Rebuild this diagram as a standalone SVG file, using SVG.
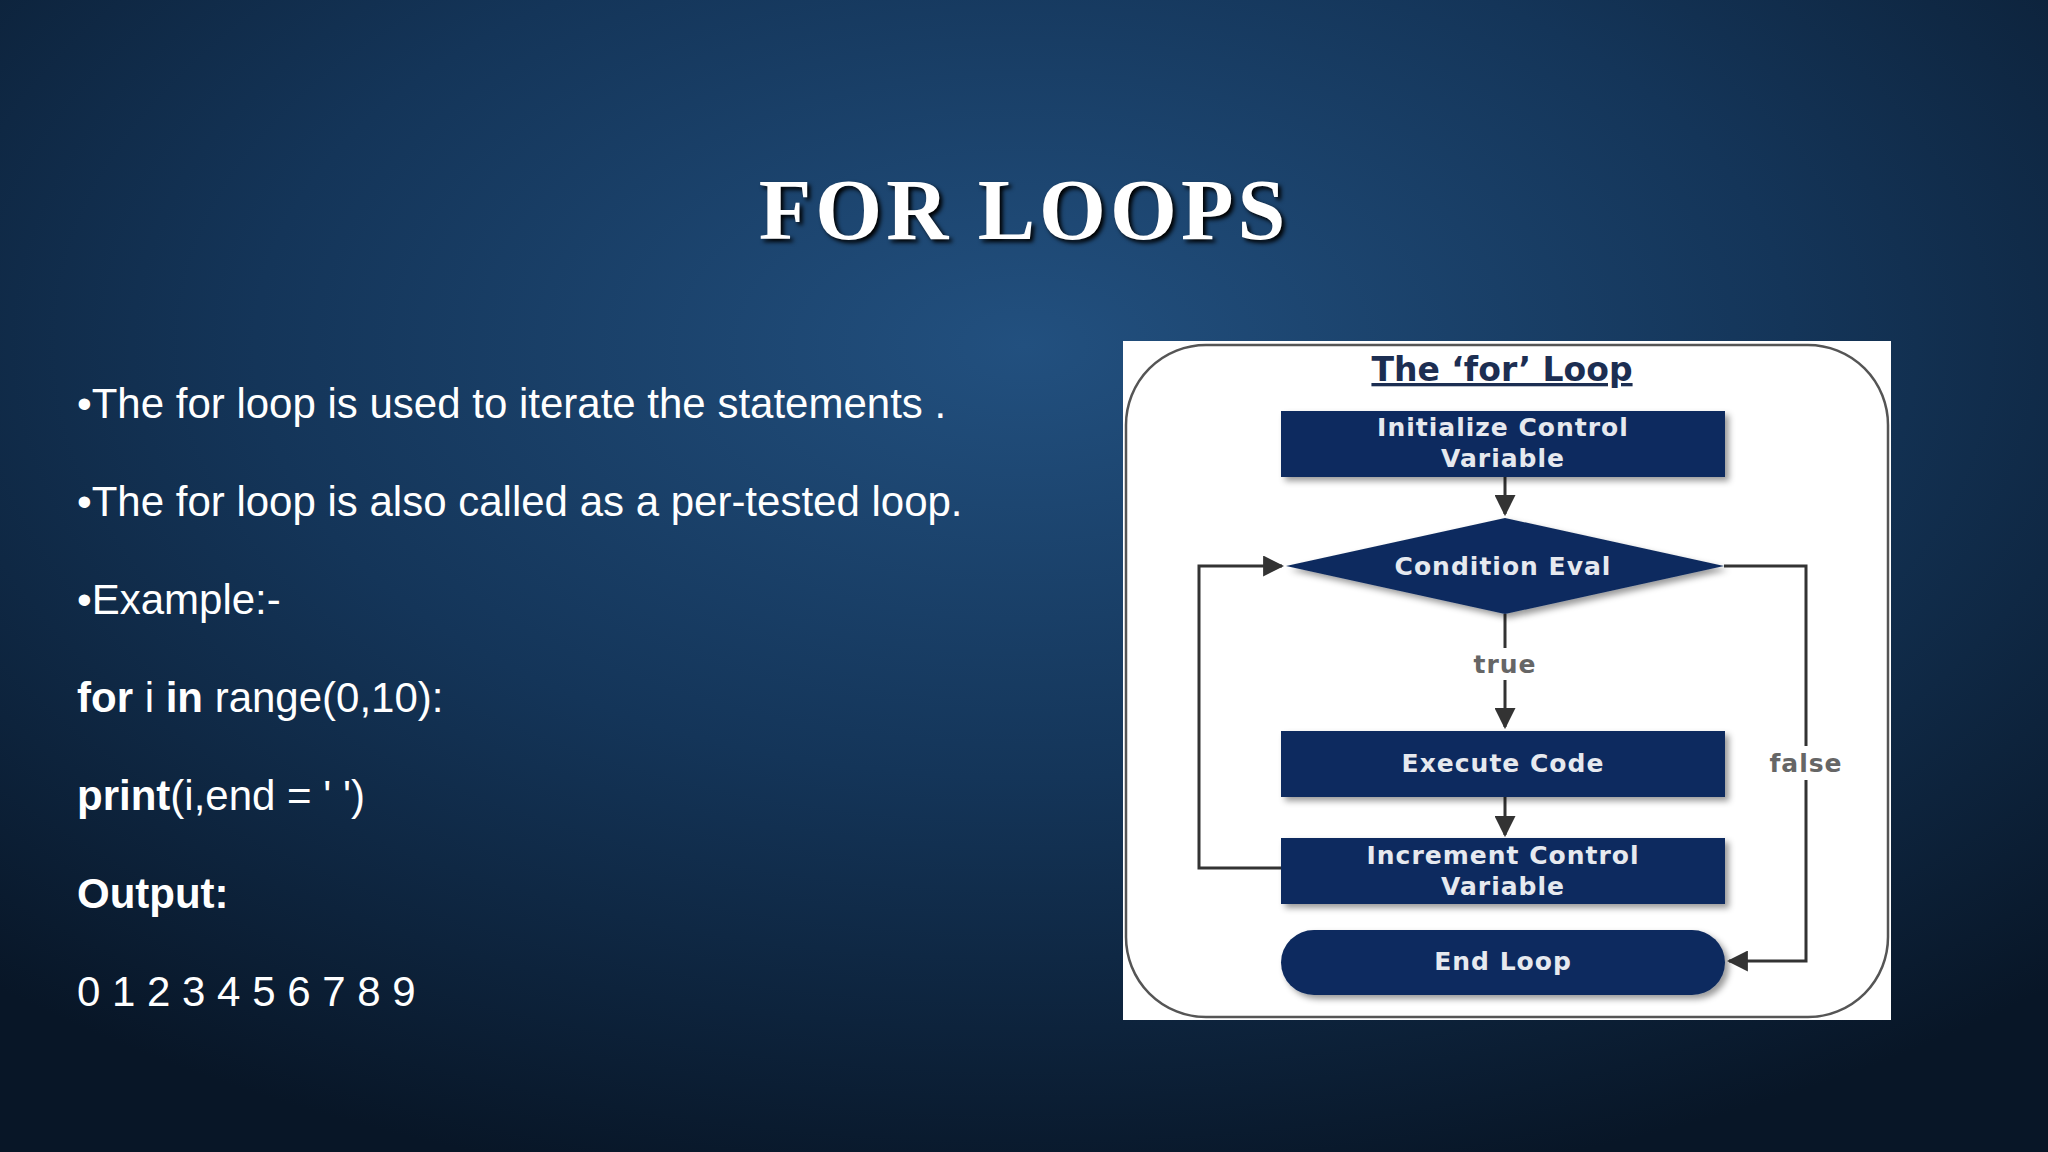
<svg xmlns="http://www.w3.org/2000/svg" width="2048" height="1152" viewBox="0 0 2048 1152">
<defs>
<radialGradient id="bg" cx="0.5" cy="0.3" r="0.75">
<stop offset="0" stop-color="#22507f"/>
<stop offset="0.5" stop-color="#143559"/>
<stop offset="1" stop-color="#081627"/>
</radialGradient>
<marker id="ah" viewBox="0 0 10 10" refX="9" refY="5" markerWidth="7" markerHeight="7" orient="auto"><path d="M0,0 L10,5 L0,10 z" fill="#333"/></marker>
<filter id="sh" x="-10%" y="-10%" width="130%" height="140%"><feDropShadow dx="4" dy="4" stdDeviation="3" flood-color="#000" flood-opacity="0.4"/></filter>
</defs>
<style>
.b{font-family:"Liberation Sans",Arial,sans-serif;font-size:42px;fill:#fff}
.n{fill:#0f2b5e;filter:url(#sh)}
.t{font-family:"DejaVu Sans",Verdana,sans-serif;font-size:25px;fill:#e6e9ef;text-anchor:middle;font-weight:bold;letter-spacing:1px}
.c{fill:none;stroke:#333;stroke-width:3}
</style>
<rect width="2048" height="1152" fill="url(#bg)"/>
<text x="1024" y="239" text-anchor="middle" font-family="'Liberation Serif',serif" font-weight="bold" font-size="86" letter-spacing="4" fill="#fff" style="text-shadow:3px 3px 4px #000">FOR LOOPS</text>
<text class="b" x="77" y="418">•The for loop is used to iterate the statements .</text>
<text class="b" x="77" y="516">•The for loop is also called as a per-tested loop.</text>
<text class="b" x="77" y="614">•Example:-</text>
<text class="b" x="77" y="712"><tspan font-weight="bold">for</tspan> i <tspan font-weight="bold">in</tspan> range(0,10):</text>
<text class="b" x="77" y="810"><tspan font-weight="bold">print</tspan>(i,end = ' ')</text>
<text class="b" x="77" y="908" font-weight="bold">Output:</text>
<text class="b" x="77" y="1006">0 1 2 3 4 5 6 7 8 9</text>
<rect x="1123" y="341" width="768" height="679" fill="#fff"/>
<rect x="1126" y="345" width="762" height="672" rx="80" fill="none" stroke="#555" stroke-width="2.5"/>
<text x="1502" y="381" text-anchor="middle" font-family="'DejaVu Sans',sans-serif" font-weight="bold" font-size="33" fill="#1c2e52" text-decoration="underline">The ‘for’ Loop</text>
<g id="connectors">
<line class="c" x1="1505" y1="477" x2="1505" y2="514" marker-end="url(#ah)"/>
<line class="c" x1="1505" y1="614" x2="1505" y2="727" marker-end="url(#ah)"/>
<line class="c" x1="1505" y1="797" x2="1505" y2="835" marker-end="url(#ah)"/>
<polyline class="c" points="1281,868 1199,868 1199,566 1282,566" marker-end="url(#ah)"/>
<polyline class="c" points="1724,566 1806,566 1806,961 1729,961" marker-end="url(#ah)"/>
<rect x="1460" y="648" width="90" height="32" fill="#fff"/>
<text x="1505" y="673" class="t" style="fill:#666">true</text>
<rect x="1766" y="746" width="80" height="34" fill="#fff"/>
<text x="1806" y="772" class="t" style="fill:#666">false</text>
</g>
<g id="init"><rect class="n" x="1281" y="411" width="444" height="66"/><text class="t" x="1503" y="436">Initialize Control</text><text class="t" x="1503" y="467">Variable</text></g>
<g id="cond"><polygon class="n" points="1505,518 1724,566 1505,614 1286,566"/><text class="t" x="1503" y="575">Condition Eval</text></g>
<g id="exec"><rect class="n" x="1281" y="731" width="444" height="66"/><text class="t" x="1503" y="772">Execute Code</text></g>
<g id="inc"><rect class="n" x="1281" y="838" width="444" height="66"/><text class="t" x="1503" y="864">Increment Control</text><text class="t" x="1503" y="895">Variable</text></g>
<g id="end"><rect class="n" x="1281" y="930" width="444" height="65" rx="33"/><text class="t" x="1503" y="970">End Loop</text></g>
</svg>
